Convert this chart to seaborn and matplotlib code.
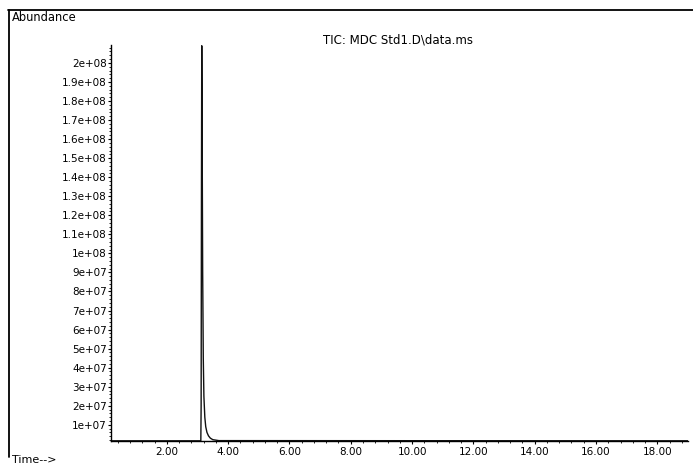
import matplotlib
matplotlib.use("Agg")
import matplotlib.pyplot as plt
from matplotlib.lines import Line2D
from matplotlib.ticker import MultipleLocator, AutoMinorLocator, FixedLocator
import seaborn as sns
import pandas as pd

# Total ion chromatogram, MDC Std1 run (retention time in min, abundance in counts)
times = [0.18, 3.11, 3.12, 3.13, 3.14, 3.15, 3.17, 3.19, 3.21, 3.24, 3.27,
         3.31, 3.36, 3.42, 3.50, 3.70, 19.0]
abundance = [1.6e6, 1.6e6, 2.0e7, 1.3e8, 2.09e8, 1.75e8, 9.0e7, 4.5e7, 2.5e7,
             1.4e7, 9.0e6, 6.0e6, 4.2e6, 3.0e6, 2.2e6, 1.7e6, 1.6e6]

x_ticks = [2, 4, 6, 8, 10, 12, 14, 16, 18]
x_tick_labels = ["2.00", "4.00", "6.00", "8.00", "10.00", "12.00", "14.00", "16.00", "18.00"]
y_ticks = [1e7 * k for k in range(1, 21)]
y_tick_labels = ["1e+07", "2e+07", "3e+07", "4e+07", "5e+07", "6e+07", "7e+07",
                 "8e+07", "9e+07", "1e+08", "1.1e+08", "1.2e+08", "1.3e+08",
                 "1.4e+08", "1.5e+08", "1.6e+08", "1.7e+08", "1.8e+08",
                 "1.9e+08", "2e+08"]

title = "TIC: MDC Std1.D\\data.ms"

sns.set_style("ticks")
plt.rcParams["font.family"] = ["DejaVu Sans"]
plt.rcParams["text.color"] = "black"
plt.rcParams["xtick.color"] = "black"
plt.rcParams["ytick.color"] = "black"

W, H = 693, 465
fig = plt.figure(figsize=(W / 100, H / 100), dpi=100)
ax = fig.add_axes([111 / W, 1 - 441 / H, (688 - 111) / W, (441 - 45) / H])

df = pd.DataFrame({"time": times, "abundance": abundance})
sns.lineplot(data=df, x="time", y="abundance", ax=ax, color="#111111",
             linewidth=1.0, estimator=None, sort=False)

ax.set_xlim(0.18, 19.0)
ax.set_ylim(1.5e6, 2.094e8)

ax.xaxis.set_major_locator(FixedLocator(x_ticks))
ax.set_xticklabels(x_tick_labels)
ax.xaxis.set_minor_locator(MultipleLocator(0.4))
ax.yaxis.set_major_locator(FixedLocator(y_ticks))
ax.set_yticklabels(y_tick_labels)
ax.yaxis.set_minor_locator(AutoMinorLocator(5))

ax.tick_params(axis="both", which="both", bottom=True, left=True,
               top=False, right=False, direction="out", colors="black")
ax.tick_params(axis="both", which="major", length=2.5, width=0.8,
               labelsize=7.5, pad=0.5)
ax.tick_params(axis="both", which="minor", length=1.5, width=0.6)
ax.tick_params(axis="x", which="major", pad=2)

for side in ("top", "right"):
    ax.spines[side].set_visible(False)
for side in ("left", "bottom"):
    ax.spines[side].set_linewidth(1.0)
    ax.spines[side].set_color("black")

ax.set_xlabel("")
ax.set_ylabel("")

fig.text(398 / W, 1 - 40 / H, title, ha="center", va="center", fontsize=8.5)
fig.text(12 / W, 1 - 17.5 / H, "Abundance", ha="left", va="center", fontsize=8.3)
fig.text(12 / W, 1 - 460 / H, "Time-->", ha="left", va="center", fontsize=8)

# page frame lines along the top and left edges
fig.add_artist(Line2D([8 / W, 1.0], [1 - 10 / H, 1 - 10 / H],
                      transform=fig.transFigure, color="black", linewidth=1.3))
fig.add_artist(Line2D([9 / W, 9 / W], [1 - 10 / H, 1 - 457 / H],
                      transform=fig.transFigure, color="black", linewidth=1.3))

fig.savefig("out.png", dpi=100)
